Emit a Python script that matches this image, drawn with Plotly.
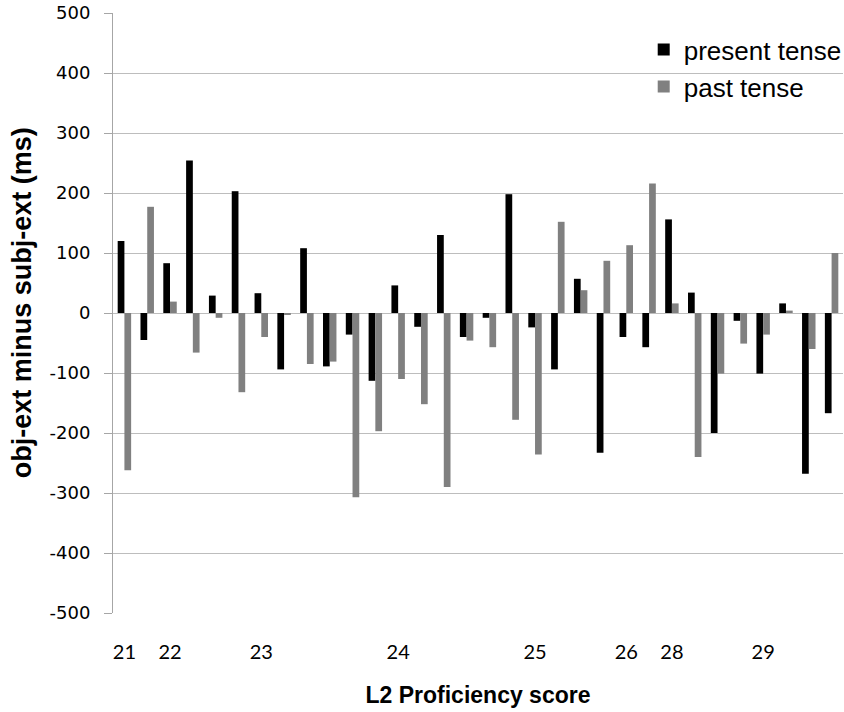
import plotly.graph_objects as go

# participants (ordered by L2 proficiency score)
participants = list(range(1, 33))
present_tense = [120, -45, 83, 254, 29, 203, 33, -94, 108, -89, -36, -113, 46, -23, 130, -40,
                 -8, 198, -24, -94, 57, -233, -40, -57, 156, 34, -200, -13, -101, 16, -268, -167]
past_tense = [-262, 177, 19, -66, -8, -132, -40, -3, -85, -81, -307, -197, -110, -152, -290, -46,
              -57, -178, -236, 152, 38, 87, 113, 216, 16, -240, -101, -51, -36, 4, -60, 100]
label_positions = [1, 3, 7, 13, 19, 23, 25, 29]
score_labels = ["21", "22", "23", "24", "25", "26", "28", "29"]
y_ticks = [-500, -400, -300, -200, -100, 0, 100, 200, 300, 400, 500]
y_tick_text = ["-500", "-400", "-300", "-200", "-100", "0", "100", "200", "300", "400", "500"]
y_title = "obj-ext minus subj-ext (ms)"
x_title = "L2 Proficiency score"

boundaries = [p - 0.5 for p in participants] + [participants[-1] + 0.5]
xr = [participants[0] - 0.5, participants[-1] + 0.5]

fig = go.Figure()
fig.add_trace(go.Bar(x=participants, y=present_tense, name="present tense",
                     marker=dict(color="#000000", line=dict(width=0)), legendgroup="a"))
fig.add_trace(go.Bar(x=participants, y=past_tense, name="past tense",
                     marker=dict(color="#808080", line=dict(width=0)), legendgroup="b"))

grid = "#bdbdbd"
axis_c = "#a6a6a6"

fig.update_layout(
    width=844, height=712,
    margin=dict(l=113, r=1, t=13, b=99, autoexpand=False),
    paper_bgcolor="white", plot_bgcolor="white",
    barmode="group", bargap=0.41, bargroupgap=0,
    font=dict(family="Liberation Sans", color="black"),
    legend=dict(x=0.727, y=0.978, xanchor="left", yanchor="top",
                bgcolor="rgba(0,0,0,0)", font=dict(size=26, family="Liberation Sans"),
                tracegroupgap=0, itemclick=False),
    xaxis=dict(range=xr, tickmode="array", tickvals=label_positions, ticktext=score_labels,
               ticks="outside", ticklen=21, tickcolor="rgba(0,0,0,0)", automargin=False,
               showgrid=False, showline=False, zeroline=False,
               tickfont=dict(family="Lato", size=20),
               title=dict(text="<b>" + x_title + "</b>", standoff=24,
                          font=dict(family="Liberation Sans", size=23))),
    xaxis2=dict(range=xr, overlaying="x", anchor="free", position=0.5, side="bottom",
                tickmode="array", tickvals=boundaries, ticks="outside", ticklen=5,
                tickcolor=axis_c, showticklabels=False, showgrid=False, zeroline=False,
                showline=True, linecolor=axis_c, linewidth=1, automargin=False),
    yaxis=dict(range=[-500, 500], tickmode="array", tickvals=y_ticks, ticktext=y_tick_text,
               showgrid=True, gridcolor=grid, gridwidth=1, automargin=False,
               showline=True, linecolor=axis_c, zeroline=False,
               ticks="outside", ticklen=8, tickcolor=axis_c, ticklabelstandoff=10,
               tickfont=dict(family="DejaVu Sans", size=18)),
)
fig.add_annotation(text="<b>" + y_title + "</b>", xref="paper", yref="paper",
                   x=-0.1253, y=0.517, xanchor="center", yanchor="middle",
                   textangle=-90, showarrow=False,
                   font=dict(family="Liberation Sans", size=27, color="black"))

fig.write_html("out.html", config={"displayModeBar": False},
               post_script="document.body.style.margin='0px';")
